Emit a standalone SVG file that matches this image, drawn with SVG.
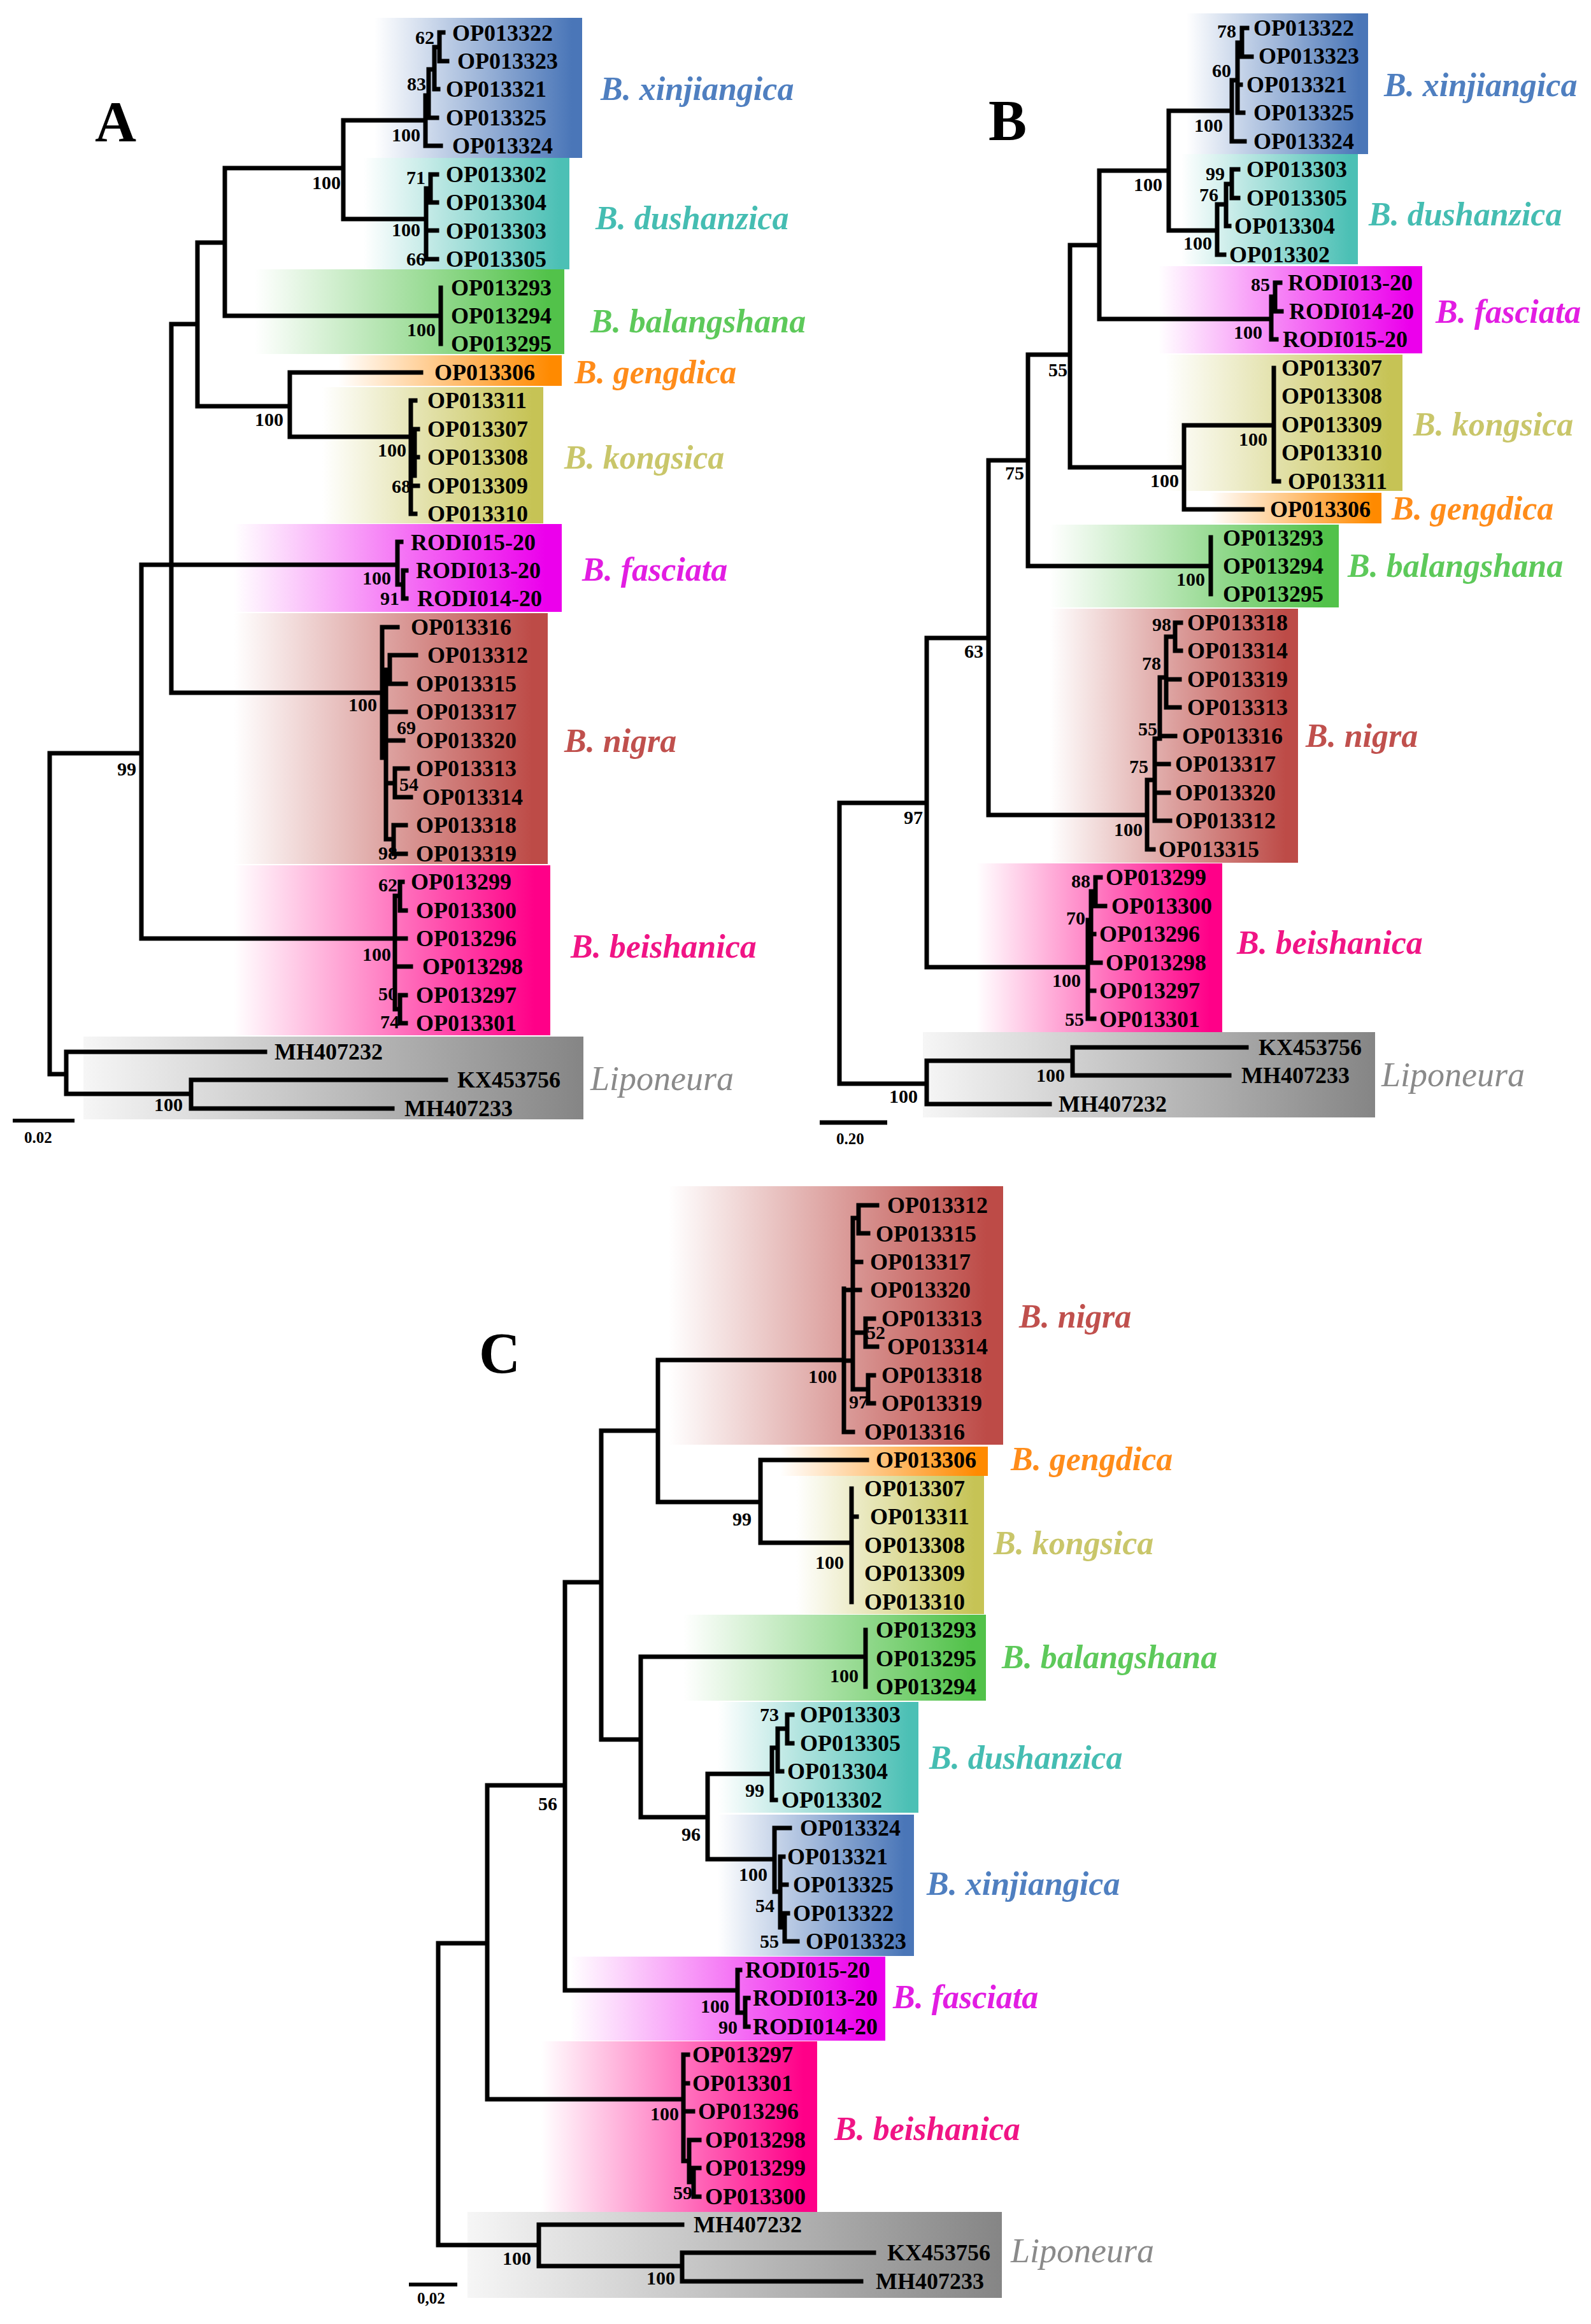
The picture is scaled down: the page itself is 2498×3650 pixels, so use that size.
<svg xmlns="http://www.w3.org/2000/svg" width="2498" height="3650" viewBox="0 0 2498 3650">
<defs>
<linearGradient id="gXin" x1="0" y1="0" x2="1" y2="0"><stop offset="0" stop-color="#fff"/><stop offset="0.95" stop-color="#4a76b8"/></linearGradient>
<linearGradient id="gDus" x1="0" y1="0" x2="1" y2="0"><stop offset="0" stop-color="#fff"/><stop offset="0.95" stop-color="#4cc0b5"/></linearGradient>
<linearGradient id="gBal" x1="0" y1="0" x2="1" y2="0"><stop offset="0" stop-color="#fff"/><stop offset="0.95" stop-color="#52c24a"/></linearGradient>
<linearGradient id="gGen" x1="0" y1="0" x2="1" y2="0"><stop offset="0" stop-color="#fff"/><stop offset="0.95" stop-color="#ff8a00"/></linearGradient>
<linearGradient id="gKon" x1="0" y1="0" x2="1" y2="0"><stop offset="0" stop-color="#fff"/><stop offset="0.95" stop-color="#c6c355"/></linearGradient>
<linearGradient id="gFas" x1="0" y1="0" x2="1" y2="0"><stop offset="0" stop-color="#fff"/><stop offset="0.95" stop-color="#ec00ec"/></linearGradient>
<linearGradient id="gNig" x1="0" y1="0" x2="1" y2="0"><stop offset="0" stop-color="#fff"/><stop offset="0.95" stop-color="#bd4b47"/></linearGradient>
<linearGradient id="gBei" x1="0" y1="0" x2="1" y2="0"><stop offset="0" stop-color="#fff"/><stop offset="0.95" stop-color="#ff0088"/></linearGradient>
<linearGradient id="gLip" x1="0" y1="0" x2="1" y2="0"><stop offset="0" stop-color="#f6f6f6"/><stop offset="1" stop-color="#858585"/></linearGradient>
</defs>
<style>
.br{fill:none;stroke:#000;stroke-width:7;stroke-linecap:square}
.sb{fill:none;stroke:#000;stroke-width:6}
.t{font-family:"Liberation Serif","Times New Roman",serif;font-weight:bold;font-size:36px;fill:#000}
.s{font-family:"Liberation Serif","Times New Roman",serif;font-weight:bold;font-size:30px;fill:#000;text-anchor:end}
.sc{font-family:"Liberation Serif","Times New Roman",serif;font-weight:bold;font-size:25px;fill:#000}
.p{font-family:"Liberation Serif","Times New Roman",serif;font-weight:bold;font-size:90px;fill:#000}
.c{font-family:"Liberation Serif","Times New Roman",serif;font-weight:bold;font-style:italic;font-size:52px}
.lp{font-family:"Liberation Serif","Times New Roman",serif;font-style:italic;font-size:54px;fill:#8a8a8a}
.cx{fill:#4f7fc0}.cd{fill:#45bdb2}.cb{fill:#5dc95a}.cg{fill:#ff8c1a}.ck{fill:#c9c66a}.cf{fill:#e21de2}.cn{fill:#c0504d}.ce{fill:#f01485}
</style>
<rect width="2498" height="3650" fill="#fff"/>

<!-- ================= PANEL A ================= -->
<g id="panelA">
<text class="p" x="149" y="222">A</text>
<g id="A-xinjiangica"><rect x="588" y="28" width="326" height="220" fill="url(#gXin)"/>
<text class="c cx" x="943" y="157">B. xinjiangica</text>
<text class="t" x="710" y="64">OP013322</text><text class="t" x="718" y="108">OP013323</text><text class="t" x="700" y="152">OP013321</text><text class="t" x="700" y="197">OP013325</text><text class="t" x="710" y="241">OP013324</text></g>
<g id="A-dushanzica"><rect x="571" y="248" width="323" height="175" fill="url(#gDus)"/>
<text class="c cd" x="935" y="360">B. dushanzica</text>
<text class="t" x="700" y="286">OP013302</text><text class="t" x="700" y="330">OP013304</text><text class="t" x="700" y="375">OP013303</text><text class="t" x="700" y="419">OP013305</text></g>
<g id="A-balangshana"><rect x="400" y="423" width="486" height="133" fill="url(#gBal)"/>
<text class="c cb" x="927" y="522">B. balangshana</text>
<text class="t" x="708" y="464">OP013293</text><text class="t" x="708" y="508">OP013294</text><text class="t" x="708" y="552">OP013295</text></g>
<g id="A-gengdica"><rect x="531" y="558" width="351" height="48" fill="url(#gGen)"/>
<text class="c cg" x="902" y="602">B. gengdica</text>
<text class="t" x="682" y="597">OP013306</text></g>
<g id="A-kongsica"><rect x="506" y="608" width="347" height="214" fill="url(#gKon)"/>
<text class="c ck" x="886" y="736">B. kongsica</text>
<text class="t" x="671" y="641">OP013311</text><text class="t" x="671" y="686">OP013307</text><text class="t" x="671" y="730">OP013308</text><text class="t" x="671" y="775">OP013309</text><text class="t" x="671" y="819">OP013310</text></g>
<g id="A-fasciata"><rect x="367" y="823" width="515" height="138" fill="url(#gFas)"/>
<text class="c cf" x="914" y="912">B. fasciata</text>
<text class="t" x="645" y="864">RODI015-20</text><text class="t" x="653" y="908">RODI013-20</text><text class="t" x="655" y="952">RODI014-20</text></g>
<g id="A-nigra"><rect x="367" y="963" width="493" height="394" fill="url(#gNig)"/>
<text class="c cn" x="886" y="1181">B. nigra</text>
<text class="t" x="645" y="997">OP013316</text><text class="t" x="671" y="1041">OP013312</text><text class="t" x="653" y="1086">OP013315</text><text class="t" x="653" y="1130">OP013317</text><text class="t" x="653" y="1175">OP013320</text><text class="t" x="653" y="1219">OP013313</text><text class="t" x="663" y="1264">OP013314</text><text class="t" x="653" y="1308">OP013318</text><text class="t" x="653" y="1353">OP013319</text></g>
<g id="A-beishanica"><rect x="367" y="1359" width="497" height="267" fill="url(#gBei)"/>
<text class="c ce" x="896" y="1504">B. beishanica</text>
<text class="t" x="645" y="1397">OP013299</text><text class="t" x="653" y="1442">OP013300</text><text class="t" x="653" y="1486">OP013296</text><text class="t" x="663" y="1530">OP013298</text><text class="t" x="653" y="1575">OP013297</text><text class="t" x="653" y="1619">OP013301</text></g>
<g id="A-liponeura"><rect x="131" y="1628" width="785" height="130" fill="url(#gLip)"/>
<text class="lp" x="927" y="1712">Liponeura</text>
<text class="t" x="431" y="1664">MH407232</text><text class="t" x="718" y="1708">KX453756</text><text class="t" x="635" y="1753">MH407233</text></g>
<g id="A-connectors"><path class="br" d="M78,1183 V1687 M78,1183 H222 M78,1687 H104 M104,1652 V1718 M104,1652 H416 M104,1718 H300 M300,1696 V1741 M300,1696 H700 M300,1741 H616 M222,887 V1474 M222,887 H269 M222,1474 H620 M269,509 V1088 M269,509 H310 M269,887 H624 M269,1088 H600 M310,381 V638 M310,381 H353 M310,638 H455 M353,264 V496 M353,264 H539 M353,496 H692 M539,189 V344 M539,189 H668 M539,344 H669 M455,585 V686 M455,585 H661 M455,686 H645 M668,150 V229 M668,229 H692 M668,150 H673 M673,109 V185 M673,185 H686 M673,109 H682 M682,74 V140 M682,140 H688 M682,74 H690 M690,51 V96 M690,51 H696 M690,96 H702 M669,296 V407 M669,407 H686 M669,362 H686 M669,296 H676 M676,274 V318 M676,274 H686 M676,318 H686 M692,452 V540 M645,629 V807 M645,629 H652 M645,807 H652 M645,710 H651 M651,674 V747 M651,674 H656 M651,718 H656 M645,763 H656 M624,851 V918 M624,851 H630 M624,918 H633 M633,896 V940 M633,896 H638 M633,940 H638 M600,985 V1190 M600,985 H624 M600,1190 H606 M606,1052 V1318 M606,1052 H612 M612,1029 V1074 M612,1029 H653 M612,1074 H637 M606,1118 H637 M606,1163 H633 M606,1230 H620 M620,1207 V1252 M620,1207 H640 M620,1252 H645 M606,1318 H618 M618,1296 V1341 M618,1296 H637 M618,1341 H637 M620,1407 V1585 M620,1407 H628 M628,1385 V1430 M628,1385 H632 M628,1430 H637 M620,1474 H637 M620,1518 H645 M620,1585 H628 M628,1563 V1607 M628,1563 H637 M628,1607 H637"/></g>
<g id="A-support">
<text class="s" x="682" y="69">62</text><text class="s" x="669" y="142">83</text><text class="s" x="660" y="222">100</text><text class="s" x="535" y="297">100</text><text class="s" x="668" y="289">71</text><text class="s" x="660" y="371">100</text><text class="s" x="668" y="417">66</text><text class="s" x="684" y="528">100</text><text class="s" x="445" y="669">100</text><text class="s" x="638" y="717">100</text><text class="s" x="645" y="774">68</text><text class="s" x="614" y="918">100</text><text class="s" x="627" y="950">91</text><text class="s" x="592" y="1117">100</text><text class="s" x="653" y="1153">69</text><text class="s" x="214" y="1218">99</text><text class="s" x="657" y="1242">54</text><text class="s" x="624" y="1350">98</text><text class="s" x="624" y="1400">62</text><text class="s" x="614" y="1509">100</text><text class="s" x="624" y="1571">50</text><text class="s" x="627" y="1615">74</text><text class="s" x="287" y="1745">100</text>
</g>
<g id="A-scale"><path class="sb" d="M20,1760 H117"/><text class="sc" x="38" y="1795">0.02</text></g>
</g>

<!-- ================= PANEL B ================= -->
<g id="panelB">
<text class="p" x="1552" y="220">B</text>
<g id="B-xinjiangica"><rect x="1863" y="21" width="285" height="221" fill="url(#gXin)"/>
<text class="c cx" x="2173" y="151">B. xinjiangica</text>
<text class="t" x="1968" y="56">OP013322</text><text class="t" x="1976" y="100">OP013323</text><text class="t" x="1957" y="145">OP013321</text><text class="t" x="1968" y="189">OP013325</text><text class="t" x="1968" y="234">OP013324</text></g>
<g id="B-dushanzica"><rect x="1855" y="242" width="277" height="173" fill="url(#gDus)"/>
<text class="c cd" x="2149" y="354">B. dushanzica</text>
<text class="t" x="1957" y="278">OP013303</text><text class="t" x="1957" y="323">OP013305</text><text class="t" x="1938" y="367">OP013304</text><text class="t" x="1930" y="412">OP013302</text></g>
<g id="B-fasciata"><rect x="1819" y="418" width="414" height="137" fill="url(#gFas)"/>
<text class="c cf" x="2254" y="507">B. fasciata</text>
<text class="t" x="2022" y="456">RODI013-20</text><text class="t" x="2024" y="501">RODI014-20</text><text class="t" x="2014" y="545">RODI015-20</text></g>
<g id="B-kongsica"><rect x="1830" y="557" width="372" height="214" fill="url(#gKon)"/>
<text class="c ck" x="2219" y="684">B. kongsica</text>
<text class="t" x="2012" y="590">OP013307</text><text class="t" x="2012" y="634">OP013308</text><text class="t" x="2012" y="679">OP013309</text><text class="t" x="2012" y="723">OP013310</text><text class="t" x="2022" y="768">OP013311</text></g>
<g id="B-gengdica"><rect x="1900" y="774" width="269" height="48" fill="url(#gGen)"/>
<text class="c cg" x="2185" y="816">B. gengdica</text>
<text class="t" x="1994" y="812">OP013306</text></g>
<g id="B-balangshana"><rect x="1648" y="824" width="454" height="130" fill="url(#gBal)"/>
<text class="c cb" x="2116" y="906">B. balangshana</text>
<text class="t" x="1920" y="857">OP013293</text><text class="t" x="1920" y="901">OP013294</text><text class="t" x="1920" y="945">OP013295</text></g>
<g id="B-nigra"><rect x="1648" y="956" width="390" height="399" fill="url(#gNig)"/>
<text class="c cn" x="2050" y="1173">B. nigra</text>
<text class="t" x="1864" y="990">OP013318</text><text class="t" x="1864" y="1034">OP013314</text><text class="t" x="1864" y="1079">OP013319</text><text class="t" x="1864" y="1123">OP013313</text><text class="t" x="1856" y="1168">OP013316</text><text class="t" x="1845" y="1212">OP013317</text><text class="t" x="1845" y="1257">OP013320</text><text class="t" x="1845" y="1301">OP013312</text><text class="t" x="1819" y="1346">OP013315</text></g>
<g id="B-beishanica"><rect x="1533" y="1356" width="386" height="265" fill="url(#gBei)"/>
<text class="c ce" x="1942" y="1498">B. beishanica</text>
<text class="t" x="1736" y="1390">OP013299</text><text class="t" x="1745" y="1435">OP013300</text><text class="t" x="1726" y="1479">OP013296</text><text class="t" x="1736" y="1524">OP013298</text><text class="t" x="1726" y="1568">OP013297</text><text class="t" x="1726" y="1613">OP013301</text></g>
<g id="B-liponeura"><rect x="1449" y="1621" width="710" height="134" fill="url(#gLip)"/>
<text class="lp" x="2169" y="1706">Liponeura</text>
<text class="t" x="1976" y="1657">KX453756</text><text class="t" x="1949" y="1701">MH407233</text><text class="t" x="1662" y="1746">MH407232</text></g>
<g id="B-connectors"><path class="br" d="M1318,1261 V1702 M1318,1261 H1455 M1318,1702 H1455 M1455,1666 V1734 M1455,1734 H1648 M1455,1666 H1684 M1684,1645 V1689 M1684,1645 H1957 M1684,1689 H1930 M1455,1002 V1519 M1455,1002 H1552 M1455,1519 H1708 M1552,723 V1280 M1552,723 H1614 M1552,1280 H1801 M1614,557 V889 M1614,557 H1680 M1614,889 H1901 M1680,385 V734 M1680,385 H1726 M1680,734 H1859 M1726,268 V501 M1726,268 H1835 M1726,501 H1996 M1835,174 V362 M1835,174 H1934 M1835,362 H1911 M1859,668 V800 M1859,668 H2000 M1859,800 H1982 M1934,126 V222 M1934,222 H1954 M1934,126 H1943 M1943,67 V177 M1943,177 H1952 M1943,133 H1948 M1943,67 H1950 M1950,44 V89 M1950,44 H1958 M1950,89 H1965 M1911,321 V400 M1911,400 H1922 M1911,321 H1925 M1925,289 V355 M1925,355 H1930 M1925,289 H1934 M1934,266 V311 M1934,266 H1944 M1934,311 H1944 M1996,466 V533 M1996,533 H2004 M1996,466 H2002 M2002,444 V489 M2002,444 H2010 M2002,489 H2012 M2000,578 V756 M2000,756 H2008 M1901,844 V933 M1801,1225 V1334 M1801,1334 H1811 M1801,1225 H1813 M1813,1160 V1289 M1813,1289 H1837 M1813,1245 H1835 M1813,1200 H1835 M1813,1160 H1821 M1821,1064 V1156 M1821,1156 H1845 M1821,1064 H1831 M1831,1000 V1111 M1831,1067 H1852 M1831,1111 H1852 M1831,1000 H1845 M1845,978 V1022 M1845,978 H1854 M1845,1022 H1854 M1708,1445 V1600 M1708,1556 H1718 M1708,1600 H1718 M1708,1445 H1713 M1713,1400 V1512 M1713,1467 H1718 M1713,1512 H1728 M1713,1400 H1720 M1720,1378 V1423 M1720,1378 H1728 M1720,1423 H1735"/></g>
<g id="B-support">
<text class="s" x="1941" y="59">78</text><text class="s" x="1933" y="121">60</text><text class="s" x="1920" y="207">100</text><text class="s" x="1825" y="300">100</text><text class="s" x="1923" y="283">99</text><text class="s" x="1913" y="316">76</text><text class="s" x="1903" y="392">100</text><text class="s" x="1994" y="457">85</text><text class="s" x="1982" y="532">100</text><text class="s" x="1676" y="591">55</text><text class="s" x="1990" y="700">100</text><text class="s" x="1851" y="765">100</text><text class="s" x="1608" y="753">75</text><text class="s" x="1892" y="920">100</text><text class="s" x="1839" y="991">98</text><text class="s" x="1823" y="1052">78</text><text class="s" x="1544" y="1033">63</text><text class="s" x="1817" y="1155">55</text><text class="s" x="1803" y="1214">75</text><text class="s" x="1794" y="1313">100</text><text class="s" x="1449" y="1294">97</text><text class="s" x="1712" y="1394">88</text><text class="s" x="1704" y="1452">70</text><text class="s" x="1697" y="1550">100</text><text class="s" x="1702" y="1611">55</text><text class="s" x="1672" y="1699">100</text><text class="s" x="1441" y="1732">100</text>
</g>
<g id="B-scale"><path class="sb" d="M1287,1763 H1393" style="stroke-width:7"/><text class="sc" x="1313" y="1797">0.20</text></g>
</g>

<!-- ================= PANEL C ================= -->
<g id="panelC">
<text class="p" x="752" y="2156">C</text>
<g id="C-nigra"><rect x="1050" y="1863" width="525" height="406" fill="url(#gNig)"/>
<text class="c cn" x="1600" y="2085">B. nigra</text>
<text class="t" x="1393" y="1905">OP013312</text><text class="t" x="1375" y="1950">OP013315</text><text class="t" x="1366" y="1994">OP013317</text><text class="t" x="1366" y="2038">OP013320</text><text class="t" x="1384" y="2083">OP013313</text><text class="t" x="1393" y="2127">OP013314</text><text class="t" x="1384" y="2172">OP013318</text><text class="t" x="1384" y="2216">OP013319</text><text class="t" x="1357" y="2261">OP013316</text></g>
<g id="C-gengdica"><rect x="1225" y="2272" width="326" height="46" fill="url(#gGen)"/>
<text class="c cg" x="1587" y="2309">B. gengdica</text>
<text class="t" x="1375" y="2305">OP013306</text></g>
<g id="C-kongsica"><rect x="1250" y="2318" width="295" height="217" fill="url(#gKon)"/>
<text class="c ck" x="1560" y="2441">B. kongsica</text>
<text class="t" x="1357" y="2350">OP013307</text><text class="t" x="1366" y="2394">OP013311</text><text class="t" x="1357" y="2439">OP013308</text><text class="t" x="1357" y="2483">OP013309</text><text class="t" x="1357" y="2528">OP013310</text></g>
<g id="C-balangshana"><rect x="1073" y="2536" width="475" height="135" fill="url(#gBal)"/>
<text class="c cb" x="1573" y="2620">B. balangshana</text>
<text class="t" x="1375" y="2572">OP013293</text><text class="t" x="1375" y="2617">OP013295</text><text class="t" x="1375" y="2661">OP013294</text></g>
<g id="C-dushanzica"><rect x="1127" y="2673" width="315" height="174" fill="url(#gDus)"/>
<text class="c cd" x="1459" y="2778">B. dushanzica</text>
<text class="t" x="1256" y="2705">OP013303</text><text class="t" x="1256" y="2750">OP013305</text><text class="t" x="1236" y="2794">OP013304</text><text class="t" x="1227" y="2839">OP013302</text></g>
<g id="C-xinjiangica"><rect x="1127" y="2850" width="308" height="222" fill="url(#gXin)"/>
<text class="c cx" x="1455" y="2976">B. xinjiangica</text>
<text class="t" x="1256" y="2883">OP013324</text><text class="t" x="1236" y="2928">OP013321</text><text class="t" x="1245" y="2972">OP013325</text><text class="t" x="1245" y="3017">OP013322</text><text class="t" x="1265" y="3061">OP013323</text></g>
<g id="C-fasciata"><rect x="895" y="3073" width="495" height="132" fill="url(#gFas)"/>
<text class="c cf" x="1402" y="3154">B. fasciata</text>
<text class="t" x="1170" y="3106">RODI015-20</text><text class="t" x="1182" y="3150">RODI013-20</text><text class="t" x="1182" y="3195">RODI014-20</text></g>
<g id="C-beishanica"><rect x="850" y="3206" width="433" height="268" fill="url(#gBei)"/>
<text class="c ce" x="1310" y="3361">B. beishanica</text>
<text class="t" x="1087" y="3239">OP013297</text><text class="t" x="1087" y="3284">OP013301</text><text class="t" x="1096" y="3328">OP013296</text><text class="t" x="1107" y="3373">OP013298</text><text class="t" x="1107" y="3417">OP013299</text><text class="t" x="1107" y="3462">OP013300</text></g>
<g id="C-liponeura"><rect x="734" y="3474" width="839" height="135" fill="url(#gLip)"/>
<text class="lp" x="1587" y="3553">Liponeura</text>
<text class="t" x="1089" y="3506">MH407232</text><text class="t" x="1393" y="3550">KX453756</text><text class="t" x="1375" y="3595">MH407233</text></g>
<g id="C-connectors"><path class="br" d="M688,3052 V3526 M688,3052 H765 M688,3526 H846 M846,3494 V3559 M846,3494 H1071 M846,3559 H1071 M1071,3538 V3583 M1071,3538 H1372 M1071,3583 H1352 M765,2804 V3297 M765,2804 H887 M765,3297 H1073 M887,2485 V3126 M887,2485 H944 M887,3126 H1158 M944,2247 V2732 M944,2247 H1033 M944,2732 H1006 M1033,2136 V2359 M1033,2136 H1325 M1033,2359 H1194 M1194,2293 V2423 M1194,2293 H1361 M1194,2423 H1337 M1337,2338 V2516 M1337,2382 H1345 M1006,2602 V2854 M1006,2602 H1359 M1006,2854 H1111 M1359,2560 V2649 M1111,2786 V2920 M1111,2786 H1212 M1111,2920 H1216 M1212,2745 V2827 M1212,2827 H1218 M1212,2745 H1221 M1221,2715 V2782 M1221,2782 H1228 M1221,2715 H1236 M1236,2693 V2738 M1236,2693 H1244 M1236,2738 H1244 M1216,2871 V2971 M1216,2871 H1240 M1216,2971 H1225 M1225,2916 V3027 M1225,2916 H1230 M1225,2960 H1235 M1225,3027 H1232 M1232,3005 V3049 M1232,3005 H1237 M1232,3049 H1252 M1158,3094 V3161 M1158,3094 H1162 M1158,3161 H1170 M1170,3138 V3183 M1170,3138 H1175 M1170,3183 H1175 M1073,3227 V3394 M1073,3227 H1080 M1073,3272 H1080 M1073,3316 H1088 M1073,3394 H1082 M1082,3361 V3427 M1082,3361 H1098 M1082,3427 H1089 M1089,3405 V3450 M1089,3405 H1098 M1089,3450 H1098 M1325,2024 V2249 M1325,2249 H1339 M1325,2026 H1350 M1325,2137 H1339 M1339,1913 V2182 M1339,1913 H1348 M1348,1893 V1937 M1348,1893 H1377 M1348,1937 H1363 M1339,1982 H1352 M1339,2093 H1359 M1359,2071 V2115 M1359,2071 H1372 M1359,2115 H1377 M1339,2182 H1363 M1363,2160 V2204 M1363,2160 H1372 M1363,2204 H1372"/></g>
<g id="C-support">
<text class="s" x="1390" y="2103">52</text><text class="s" x="1314" y="2172">100</text><text class="s" x="1363" y="2212">97</text><text class="s" x="1180" y="2396">99</text><text class="s" x="1325" y="2464">100</text><text class="s" x="1348" y="2642">100</text><text class="s" x="1223" y="2703">73</text><text class="s" x="1200" y="2822">99</text><text class="s" x="875" y="2843">56</text><text class="s" x="1100" y="2891">96</text><text class="s" x="1205" y="2954">100</text><text class="s" x="1216" y="3003">54</text><text class="s" x="1223" y="3059">55</text><text class="s" x="1145" y="3161">100</text><text class="s" x="1158" y="3194">90</text><text class="s" x="1066" y="3330">100</text><text class="s" x="1087" y="3454">59</text><text class="s" x="834" y="3557">100</text><text class="s" x="1060" y="3588">100</text>
</g>
<g id="C-scale"><path class="sb" d="M642,3588 H718"/><text class="sc" x="655" y="3618">0,02</text></g>
</g>
</svg>
